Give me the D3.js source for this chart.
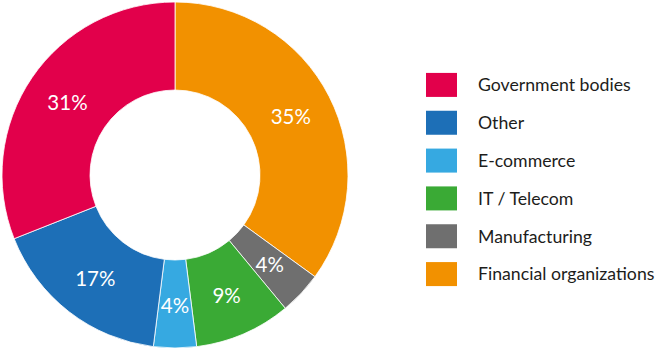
<!DOCTYPE html>
<html>
<head>
<meta charset="utf-8">
<script src="https://cdn.jsdelivr.net/npm/d3@7"></script>
<style>
  body { margin: 0; background: #fff; }
</style>
</head>
<body>
<div id="container"></div>
<script>
// Chart dimensions
const width = 660;
const height = 352;
const cx = 175;
const cy = 175;
const outerRadius = 173;
const innerRadius = 85;

// Data, in clockwise order from 12 o'clock
const categories = ["Financial organizations", "Manufacturing", "IT / Telecom", "E-commerce", "Other", "Government bodies"];
const shares = [35, 4, 9, 4, 17, 31];
const colours = ["#f29100", "#6f6f6f", "#3aaa35", "#36a9e1", "#1d6fb7", "#e2004b"];

// Legend order (top to bottom)
const legendOrder = ["Government bodies", "Other", "E-commerce", "IT / Telecom", "Manufacturing", "Financial organizations"];

const colour = d3.scaleOrdinal().domain(categories).range(colours);

const svg = d3.create("svg").attr("width", width).attr("height", height);
document.getElementById("container").appendChild(svg.node());

const data = categories.map((c, i) => ({ name: c, value: shares[i] }));

const pie = d3.pie().sort(null).value(d => d.value);
const arc = d3.arc().innerRadius(innerRadius).outerRadius(outerRadius);
const labelArc = d3.arc().innerRadius(130).outerRadius(130);

const g = svg.append("g").attr("transform", `translate(${cx},${cy})`);

g.selectAll("path")
  .data(pie(data))
  .join("path")
  .attr("d", arc)
  .attr("fill", d => colour(d.data.name))
  .attr("stroke", "#fff")
  .attr("stroke-width", 0.8);

g.selectAll("text")
  .data(pie(data))
  .join("text")
  .attr("transform", d => `translate(${labelArc.centroid(d)})`)
  .attr("text-anchor", "middle")
  .attr("dy", "0.4em")
  .attr("fill", "#fff")
  .attr("font-family", "Lato, sans-serif")
  .attr("font-size", "20.5px")
  .text(d => `${d.data.value}%`);

// Legend
const y = d3.scaleBand().domain(legendOrder).range([66, 293]);

const legend = svg.append("g");
const rows = legend.selectAll("g")
  .data(legendOrder)
  .join("g")
  .attr("transform", d => `translate(426,${y(d) + y.bandwidth() / 2})`);

rows.append("rect")
  .attr("x", 0)
  .attr("y", -12)
  .attr("width", 31)
  .attr("height", 24)
  .attr("fill", d => colour(d));

rows.append("text")
  .attr("x", 52)
  .attr("dy", "0.36em")
  .attr("fill", "#1d1d1b")
  .attr("font-family", "Lato, sans-serif")
  .attr("font-size", "17.7px")
  .text(d => d);
</script>
</body>
</html>
